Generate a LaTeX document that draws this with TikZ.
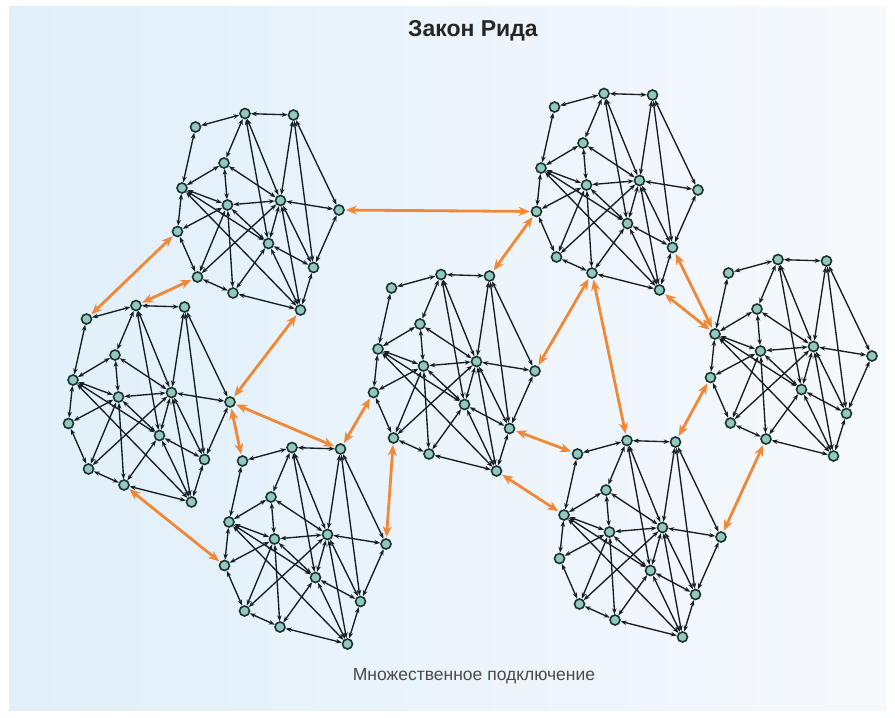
\documentclass[tikz,border=0pt]{standalone}
\usepackage{fontspec}
\setmainfont{Liberation Sans}
\usetikzlibrary{arrows.meta}
\definecolor{nodefill}{HTML}{93C8BC}
\definecolor{nodedraw}{HTML}{1A3232}
\definecolor{edgecol}{HTML}{161E24}
\definecolor{linkcol}{HTML}{F08838}
\definecolor{bgleft}{HTML}{E0EFFA}
\definecolor{bgright}{HTML}{F6F9FC}
\definecolor{captcol}{HTML}{4A4A4A}
\tikzset{
  nd/.style={circle, fill=nodefill, draw=nodedraw, line width=1.6pt, minimum size=10pt, inner sep=0pt},
  edge/.style={draw=edgecol, line width=1.35pt, {Stealth[length=6pt,width=4.5pt]}-{Stealth[length=6pt,width=4.5pt]}},
  link/.style={draw=linkcol, line width=2.8pt, {Stealth[length=11pt,width=9pt]}-{Stealth[length=11pt,width=9pt]}, shorten <=1pt, shorten >=1pt},
}
\newcommand\mkcluster[3]{%
  \begin{scope}[shift={(#2,#3)}]
    \node[nd] (#1A) at (13.5,-61) {};
    \node[nd] (#1B) at (63,-74.5) {};
    \node[nd] (#1C) at (111.5,-73) {};
    \node[nd] (#1D) at (42,-25) {};
    \node[nd] (#1E) at (0,0) {};
    \node[nd] (#1F) at (45.5,17) {};
    \node[nd] (#1G) at (98.5,12.5) {};
    \node[nd] (#1H) at (157,22) {};
    \node[nd] (#1I) at (-4.5,43.5) {};
    \node[nd] (#1J) at (86.5,55.5) {};
    \node[nd] (#1K) at (131.5,79.5) {};
    \node[nd] (#1L) at (15.5,89) {};
    \node[nd] (#1M) at (51,105) {};
    \node[nd] (#1N) at (118.5,122) {};
  \end{scope}
  \foreach \a/\b in {A/B,B/C,A/E,B/D,B/G,B/J,C/G,C/K,C/H,D/E,D/F,D/G,E/F,E/I,E/J,E/N,F/G,F/I,F/L,F/M,F/J,G/H,G/L,G/J,G/K,G/N,H/K,I/L,J/K,J/N,J/M,K/N,L/M,M/N}
    \draw[edge] (#1\a) -- (#1\b);
}
\begin{document}
\begin{tikzpicture}[x=1pt,y=-1pt]
\useasboundingbox (0,0) rectangle (895,718);
\fill[white] (0,0) rectangle (895,718);
\shade[left color=bgleft, right color=bgright] (9,6) rectangle (886,710);
\node[font=\bfseries\fontsize{23}{27}\selectfont, text=black!85] (title) at (473,31) {Закон Рида};
\node[font=\fontsize{17.5}{21}\selectfont, text=captcol] (caption) at (474,676) {Множественное подключение};
\mkcluster{a}{182}{188}
\mkcluster{b}{73}{380}
\mkcluster{c}{541}{168}
\mkcluster{d}{229}{522}
\mkcluster{e}{378}{349}
\mkcluster{f}{715}{334}
\mkcluster{g}{564}{515}
% inter-cluster links
\draw[link] (aH) -- (cI);
\draw[link] (aI) -- (bA);
\draw[link] (aL) -- (bB);
\draw[link] (aN) -- (bH);
\draw[link] (bH) -- (dA);
\draw[link] (bH) -- (dC);
\draw[link] (bM) -- (dI);
\draw[link] (dC) -- (eI);
\draw[link] (dH) -- (eL);
\draw[link] (eC) -- (cI);
\draw[link] (eH) -- (cM);
\draw[link] (eK) -- (gA);
\draw[link] (eN) -- (gE);
\draw[link] (cM) -- (gB);
\draw[link] (cK) -- (fE);
\draw[link] (cN) -- (fE);
\draw[link] (fI) -- (gC);
\draw[link] (fM) -- (gH);
\end{tikzpicture}
\end{document}
